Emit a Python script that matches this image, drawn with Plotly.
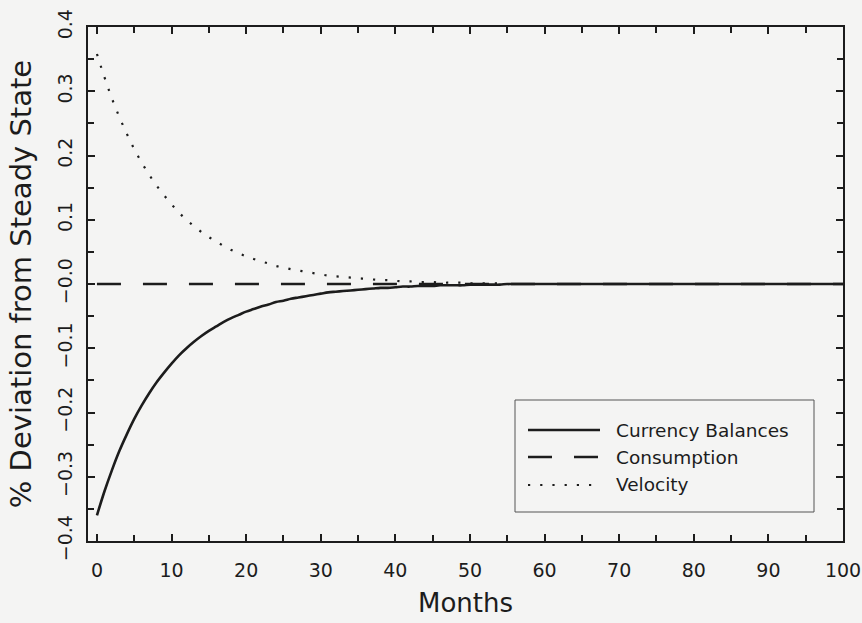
import plotly.graph_objects as go

months = list(range(0, 101))

currency_head = [-0.360, -0.323, -0.290, -0.260, -0.234, -0.210, -0.189, -0.170, -0.153, -0.138,
                 -0.124, -0.111, -0.100, -0.090, -0.081, -0.073, -0.066, -0.059, -0.053, -0.048,
                 -0.043, -0.039, -0.035, -0.032, -0.028, -0.026, -0.023, -0.021, -0.019, -0.017,
                 -0.015, -0.013, -0.012, -0.011, -0.010, -0.009, -0.008, -0.007, -0.006, -0.006,
                 -0.005, -0.004, -0.004, -0.003, -0.003, -0.003, -0.002, -0.002, -0.002, -0.002,
                 -0.001, -0.001, -0.001, -0.001, -0.001]
currency = currency_head + [0.0] * (101 - len(currency_head))

velocity_head = [0.358, 0.322, 0.289, 0.260, 0.234, 0.210, 0.189, 0.170, 0.153, 0.138,
                 0.124, 0.111, 0.100, 0.090, 0.081, 0.073, 0.066, 0.059, 0.053, 0.048,
                 0.043, 0.039, 0.035, 0.032, 0.028, 0.026, 0.023, 0.021, 0.019, 0.017,
                 0.015, 0.013, 0.012, 0.011, 0.010, 0.009, 0.008, 0.007, 0.006, 0.006,
                 0.005, 0.004, 0.004, 0.003, 0.003, 0.003, 0.002, 0.002, 0.002, 0.002,
                 0.001, 0.001, 0.001, 0.001, 0.001]
velocity = velocity_head + [0.0] * (101 - len(velocity_head))

consumption = [0.0] * 101

x_ticks = [0, 10, 20, 30, 40, 50, 60, 70, 80, 90, 100]
y_tickvals = [-0.4, -0.3, -0.2, -0.1, 0.0, 0.1, 0.2, 0.3, 0.4]
y_ticktext = ["\u22120.4", "\u22120.3", "\u22120.2", "\u22120.1", "\u22120.0", "0.1", "0.2", "0.3", "0.4"]

series_names = ["Currency Balances", "Consumption", "Velocity"]

INK = "#1c1c1c"
BG = "#f4f4f3"
FONT = "DejaVu Sans"
DASH_C = "24px,22px"
DOT_V = "2.2px,10px"

fig = go.Figure()
fig.add_trace(go.Scatter(x=months, y=consumption, mode="lines", name=series_names[1],
                         line=dict(color=INK, width=2.5, dash=DASH_C)))
fig.add_trace(go.Scatter(x=months, y=velocity, mode="lines", name=series_names[2],
                         line=dict(color=INK, width=2.2, dash=DOT_V, shape="spline", smoothing=1)))
fig.add_trace(go.Scatter(x=months, y=currency, mode="lines", name=series_names[0],
                         line=dict(color=INK, width=2.6, shape="spline", smoothing=1)))

# legend drawn in paper coordinates
L, R, T, B = 88, 19, 27, 82
W, H = 862, 623
pw, ph = W - L - R, H - T - B


def px(xp):
    return (xp - L) / pw


def py(yp):
    return (H - B - yp) / ph


fig.add_shape(type="rect", xref="paper", yref="paper",
              x0=px(515), x1=px(814), y0=py(512), y1=py(400),
              line=dict(color="#555", width=1), fillcolor=BG, layer="above")
rows = [430, 457, 485]
styles = [dict(width=2.6), dict(width=2.5, dash=DASH_C), dict(width=2.2, dash=DOT_V)]
for name, ry, st in zip(series_names, rows, styles):
    fig.add_shape(type="line", xref="paper", yref="paper",
                  x0=px(528), x1=px(600), y0=py(ry), y1=py(ry),
                  line=dict(color=INK, **st), layer="above")
    fig.add_annotation(xref="paper", yref="paper", x=px(614), y=py(ry),
                       text=name, showarrow=False, xanchor="left", yanchor="middle",
                       font=dict(family=FONT, size=18.5, color=INK))

axis_common = dict(showline=True, linecolor=INK, linewidth=2, mirror="ticks",
                   ticks="inside", ticklen=7, tickwidth=1.5, tickcolor=INK,
                   showgrid=False, zeroline=False, ticklabeloverflow="allow",
                   automargin=False,
                   tickfont=dict(family=FONT, size=19, color=INK))

fig.update_layout(
    width=W, height=H,
    margin=dict(l=L, r=R, t=T, b=B),
    paper_bgcolor=BG, plot_bgcolor=BG,
    showlegend=False,
    font=dict(family=FONT, color=INK),
    xaxis=dict(range=[-1.2, 100], tickvals=x_ticks, ticklabelstandoff=11,
               minor=dict(ticks="inside", ticklen=6, tickwidth=1.5, tickcolor=INK, dtick=5, tick0=0),
               title=dict(text="Months", font=dict(family=FONT, size=26, color=INK), standoff=14),
               **axis_common),
    yaxis=dict(range=[-0.4, 0.4], tickvals=y_tickvals, ticktext=y_ticktext, tickangle=-90,
               ticklabelstandoff=6,
               minor=dict(ticks="inside", ticklen=6, tickwidth=1.5, tickcolor=INK, dtick=0.05, tick0=0),
               title=dict(text="% Deviation from Steady State", font=dict(family=FONT, size=29, color=INK), standoff=14),
               **axis_common),
)

fig.write_html("out.html", config={"displayModeBar": False},
               post_script="document.body.style.margin='0px';document.body.style.background='%s';" % BG)
